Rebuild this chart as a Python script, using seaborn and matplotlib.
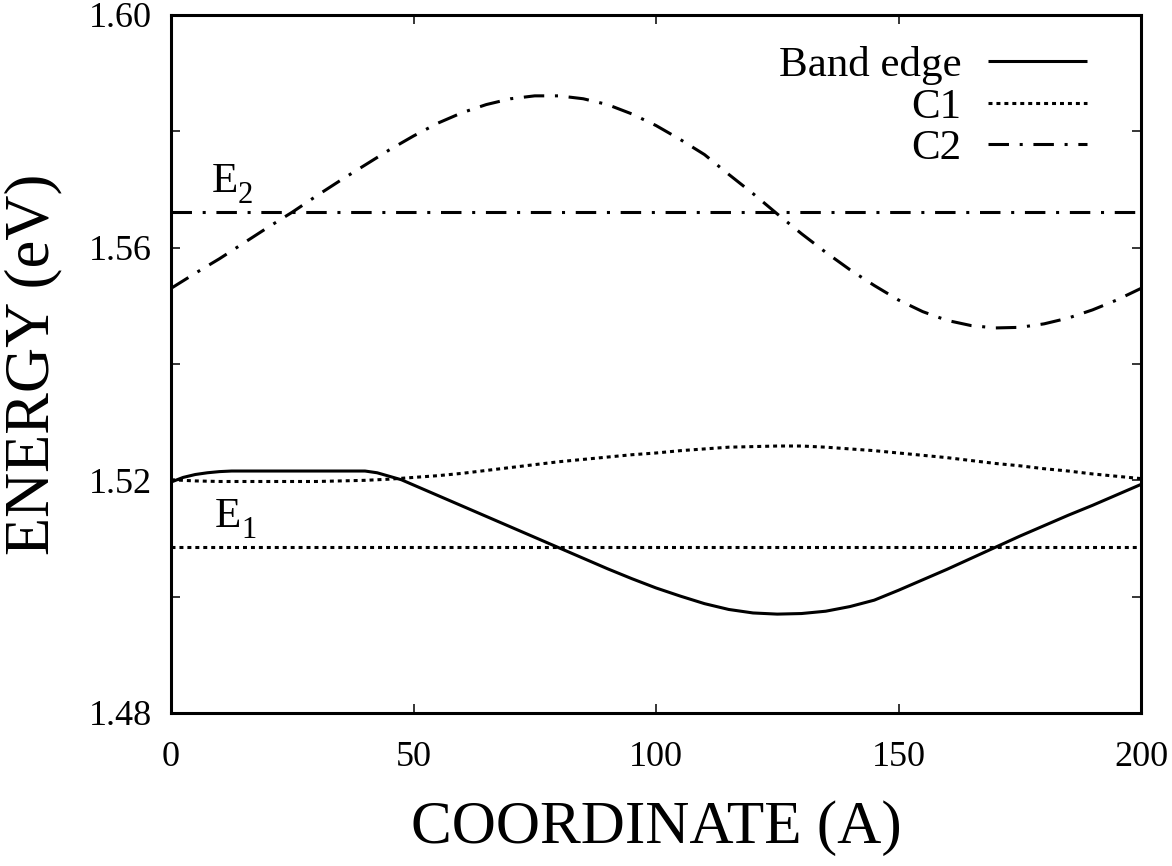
import numpy as np
import pandas as pd
import seaborn as sns
import matplotlib
matplotlib.use("Agg")
import matplotlib.pyplot as plt
from matplotlib.transforms import offset_copy

# Position along the structure (A)
coord = [0, 5, 10, 15, 20, 25, 30, 35, 40, 45, 50, 55, 60, 65, 70, 75, 80,
         85, 90, 95, 100, 105, 110, 115, 120, 125, 130, 135, 140, 145, 150,
         155, 160, 165, 170, 175, 180, 185, 190, 195, 200]

# Conduction band edge (eV), sampled more finely where it bends
band_coord = [0, 2.5, 5, 7.5, 10, 12.5, 15, 20, 25, 30, 35, 40, 42.5, 45,
              47.5, 50, 55, 60, 65, 70, 75, 80, 85, 90, 95, 100, 105, 110,
              115, 120, 125, 130, 135, 140, 145, 150, 155, 160, 165, 170,
              175, 180, 185, 190, 195, 200]
band_edge = [1.5197, 1.5205, 1.5210, 1.5213, 1.5215, 1.5216, 1.5216, 1.5216,
             1.5216, 1.5216, 1.5216, 1.5216, 1.5213, 1.5207, 1.5201, 1.5192,
             1.5174, 1.5156, 1.5138, 1.5120, 1.5102, 1.5084, 1.5066, 1.5048,
             1.5031, 1.5015, 1.5001, 1.4988, 1.4978, 1.4972, 1.4970, 1.4971,
             1.4975, 1.4983, 1.4994, 1.5011, 1.5029, 1.5047, 1.5066, 1.5085,
             1.5104, 1.5122, 1.5140, 1.5157, 1.5175, 1.5193]

# Subband profiles (eV)
c1 = [1.5201, 1.5199, 1.5198, 1.5198, 1.5198, 1.5198, 1.5198, 1.5199, 1.5200,
      1.5202, 1.5205, 1.5208, 1.5212, 1.5217, 1.5222, 1.5227, 1.5232, 1.5236,
      1.5240, 1.5244, 1.5247, 1.5251, 1.5254, 1.5257, 1.5258, 1.5259, 1.5259,
      1.5257, 1.5254, 1.5251, 1.5247, 1.5243, 1.5239, 1.5234, 1.5229, 1.5225,
      1.5220, 1.5216, 1.5211, 1.5207, 1.5203]

c2 = [1.5530, 1.5556, 1.5581, 1.5608, 1.5635, 1.5661, 1.5689, 1.5716, 1.5742,
      1.5768, 1.5792, 1.5814, 1.5832, 1.5846, 1.5856, 1.5861, 1.5861, 1.5856,
      1.5846, 1.5830, 1.5810, 1.5786, 1.5760, 1.5726, 1.5693, 1.5658, 1.5624,
      1.5592, 1.5562, 1.5535, 1.5510, 1.5490, 1.5475, 1.5466, 1.5462, 1.5463,
      1.5469, 1.5479, 1.5493, 1.5510, 1.5530]

# Energy levels
e1_level = 1.5086
e2_level = 1.5662

x_ticks = [0, 50, 100, 150, 200]
y_ticks = [1.48, 1.50, 1.52, 1.54, 1.56, 1.58, 1.60]
y_tick_labels = ["1.48", "", "1.52", "", "1.56", "", "1.60"]

sns.set_theme(style="ticks")
plt.rcParams["font.family"] = ["Liberation Serif", "DejaVu Serif"]
plt.rcParams["lines.solid_capstyle"] = "butt"
plt.rcParams["lines.dash_capstyle"] = "butt"
for key in ("text.color", "axes.labelcolor", "xtick.color", "ytick.color",
            "xtick.labelcolor", "ytick.labelcolor"):
    plt.rcParams[key] = "black"

df = pd.DataFrame({"coord": coord, "c1": c1, "c2": c2})
df_band = pd.DataFrame({"coord": band_coord, "band": band_edge})

fig = plt.figure(figsize=(11.72, 8.66), dpi=100)
ax = fig.add_axes([171 / 1172, 1 - 713 / 866, 970 / 1172, 698 / 866])

lw = 2.2
dotted = (0, (1.3, 1.3))
dashdot = (0, (6.7, 3.5, 1.0, 3.5))

sns.lineplot(data=df_band, x="coord", y="band", ax=ax, color="black", lw=lw,
             label="Band edge")
sns.lineplot(data=df, x="coord", y="c1", ax=ax, color="black", lw=lw,
             linestyle=dotted, label="C1")
sns.lineplot(data=df, x="coord", y="c2", ax=ax, color="black", lw=lw,
             linestyle=dashdot, label="C2")

ax.axhline(e1_level, color="black", lw=lw, linestyle=dotted)
ax.axhline(e2_level, color="black", lw=lw, linestyle=dashdot)


def level_label(x, y, sub):
    ax.text(x, y, "E", fontsize=31, ha="left", va="baseline", color="black")
    tr = offset_copy(ax.transData, fig=fig, x=26, y=-11, units="dots")
    ax.text(x, y, sub, fontsize=22, ha="left", va="baseline", transform=tr,
            color="black")


level_label(9.1, 1.5120, "1")
level_label(8.4, 1.5696, "2")

ax.set_xlim(0, 200)
ax.set_ylim(1.48, 1.60)
ax.set_xticks(x_ticks)
ax.set_xticklabels([str(t) for t in x_ticks])
ax.set_yticks(y_ticks)
ax.set_yticklabels(y_tick_labels)

ax.tick_params(axis="both", which="major", direction="in", length=6.5,
               width=1.1, color="black", labelcolor="black", labelsize=26,
               top=True, right=True)
ax.tick_params(axis="x", pad=20)
ax.tick_params(axis="y", pad=14)

for sp in ax.spines.values():
    sp.set_visible(True)
    sp.set_linewidth(2.2)
    sp.set_color("black")

ax.set_xlabel("COORDINATE (A)", fontsize=44, color="black")
ax.set_ylabel("ENERGY (eV)", fontsize=45, color="black")
ax.xaxis.set_label_coords(0.5, -(800 - 713) / 698)
ax.yaxis.set_label_coords(-(171 - 62) / 970, 0.5)

leg = ax.legend(loc="upper right", bbox_to_anchor=(0.944, 0.956),
                frameon=False, markerfirst=False, fontsize=31,
                handlelength=2.3, handletextpad=0.6, labelspacing=0.06,
                borderpad=0, borderaxespad=0, labelcolor="black")

fig.savefig("out.png", dpi=100)
